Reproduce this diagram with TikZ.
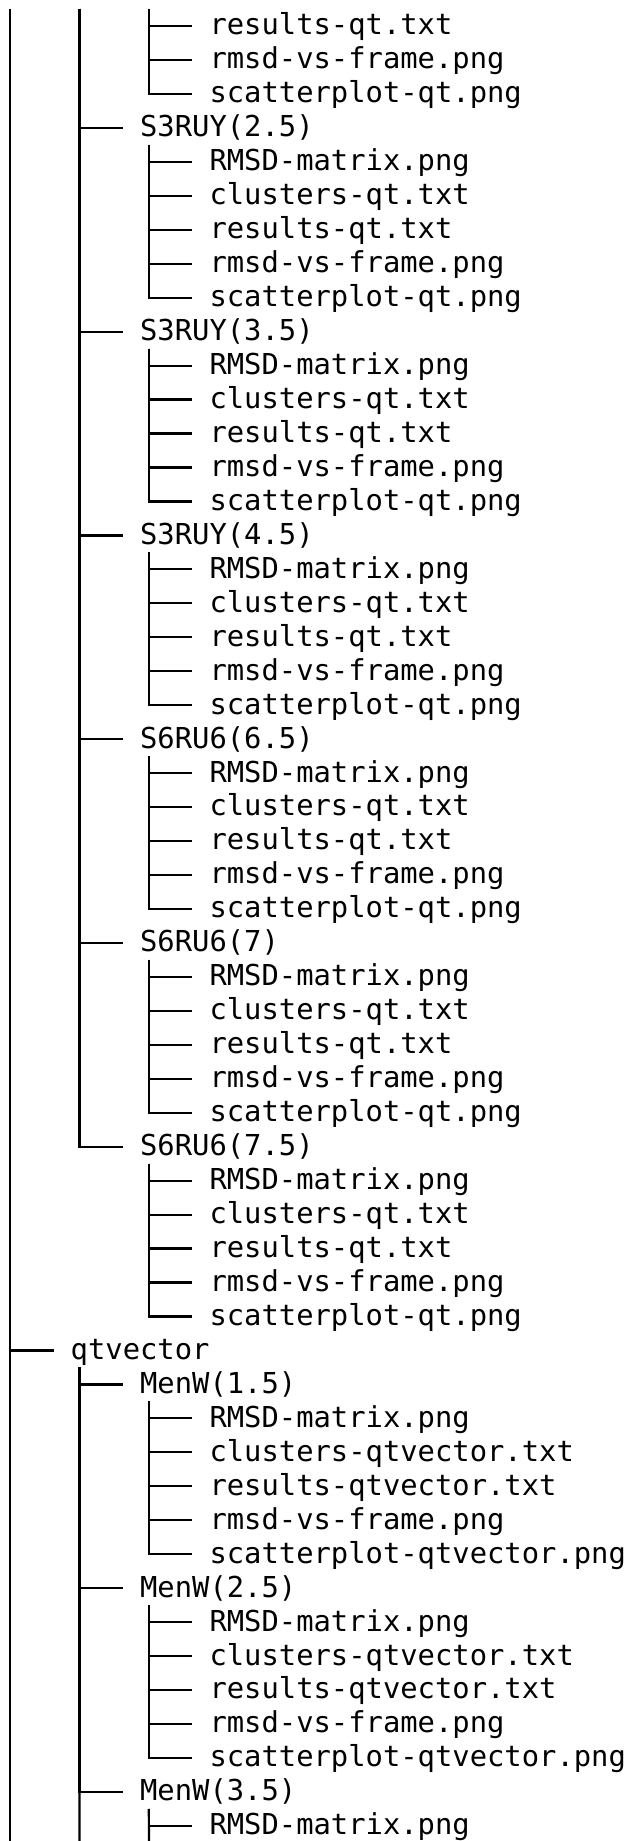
\documentclass[tikz,border=0pt]{standalone}
\usepackage{fontspec}
\setmonofont{DejaVu Sans Mono}
\newcommand\treefont{\fontsize{14.41pt}{17pt}\selectfont\ttfamily}
% node at text column #2, row #3
\newcommand\tnode[4]{\node[lbl] (#1) at ({1.32+#2*17.35},{26+(#3-1)*33.96}) {#4};}
\begin{document}
\begin{tikzpicture}[x=0.5pt,y=-0.5pt,
  lbl/.style={anchor=west,inner sep=0pt,outer sep=0pt,font=\treefont,text height=12.9pt,text depth=4pt},
  tree/.style={line width=1.1pt,line cap=butt,line join=miter},
  kid/.style={xshift=-8.6pt},
  stem/.style={xshift=4.34pt,yshift=-8.49pt}]
\useasboundingbox (0,0) rectangle (627,1841);

% free ends of the lines that run off the picture
\coordinate (c0top) at (10,9);
\coordinate (c0bot) at (10,1841);
\coordinate (c4top) at (79.4,9);
\coordinate (c4bot) at (79.4,1841);
\coordinate (c8top) at (149,9);
\coordinate (c8bot) at (149,1841);

% outermost line
\draw[tree] (c0top) -- (c0bot);

% first files (parent off picture)
\foreach \f [count=\j] in {results-qt.txt,rmsd-vs-frame.png,scatterplot-qt.png} {
  \tnode{t\j}{12}{\j}{\f}
  \draw[tree] (c8top) |- ([kid]t\j.west);
}

% qt directories
\foreach \lab [count=\k] in {S3RUY(2.5),S3RUY(3.5),S3RUY(4.5),S6RU6(6.5),S6RU6(7),S6RU6(7.5)} {
  \pgfmathtruncatemacro\r{4+6*(\k-1)}
  \tnode{d\k}{8}{\r}{\lab}
  \draw[tree] (c4top) |- ([kid]d\k.west);
  \foreach \f [count=\j] in {RMSD-matrix.png,clusters-qt.txt,results-qt.txt,rmsd-vs-frame.png,scatterplot-qt.png} {
    \pgfmathtruncatemacro\rr{\r+\j}
    \tnode{d\k-f\j}{12}{\rr}{\f}
    \draw[tree] ([stem]d\k.west) |- ([kid]d\k-f\j.west);
  }
}

% qtvector
\tnode{q}{4}{40}{qtvector}
\draw[tree] (c0top) |- ([kid]q.west);
\draw[tree] ([stem]q.west) -- (c4bot);

\foreach \lab [count=\k] in {MenW(1.5),MenW(2.5)} {
  \pgfmathtruncatemacro\r{41+6*(\k-1)}
  \tnode{m\k}{8}{\r}{\lab}
  \draw[tree] ([stem]q.west) |- ([kid]m\k.west);
  \foreach \f [count=\j] in {RMSD-matrix.png,clusters-qtvector.txt,results-qtvector.txt,rmsd-vs-frame.png,scatterplot-qtvector.png} {
    \pgfmathtruncatemacro\rr{\r+\j}
    \tnode{m\k-f\j}{12}{\rr}{\f}
    \draw[tree] ([stem]m\k.west) |- ([kid]m\k-f\j.west);
  }
}

\tnode{m3}{8}{53}{MenW(3.5)}
\draw[tree] ([stem]q.west) |- ([kid]m3.west);
\tnode{m3-f1}{12}{54}{RMSD-matrix.png}
\draw[tree] ([stem]m3.west) |- ([kid]m3-f1.west);
\draw[tree] ([stem]m3.west) -- (c8bot);
\end{tikzpicture}
\end{document}
